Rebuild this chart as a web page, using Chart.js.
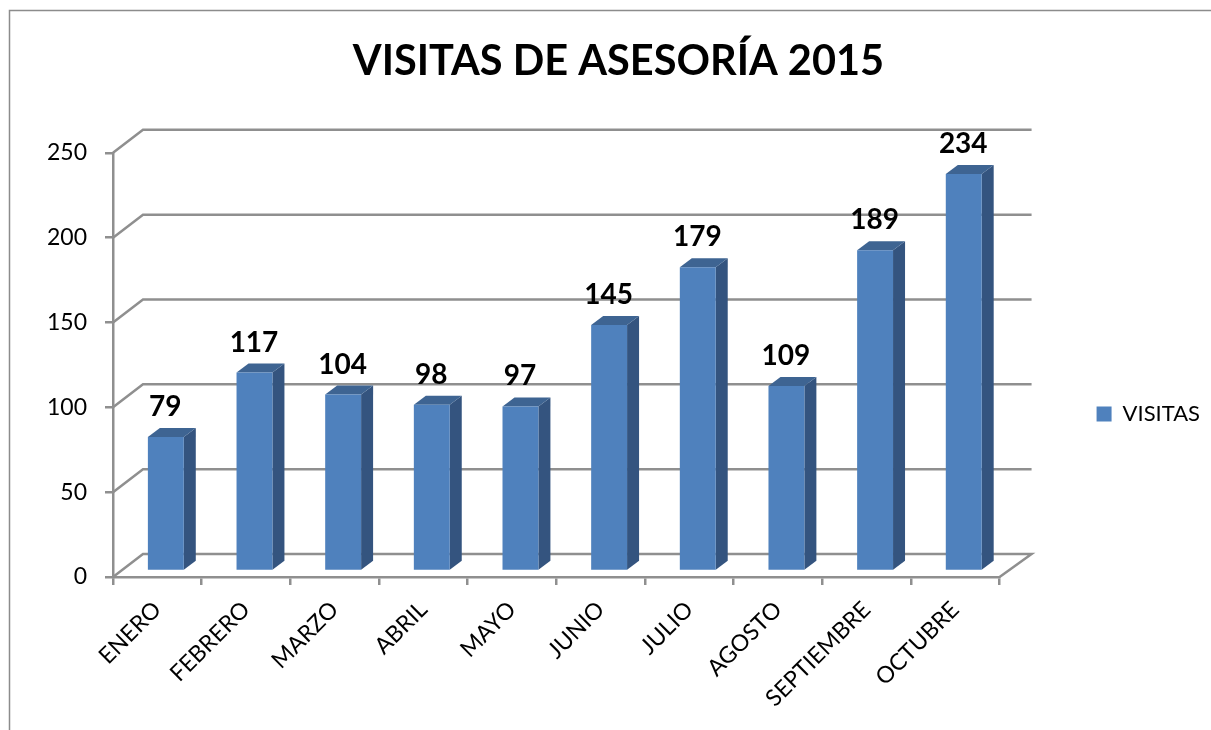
<!DOCTYPE html>
<html>
<head>
<meta charset="utf-8">
<style>
    html, body { margin: 0; padding: 0; background: #fff; }
    canvas { display: block; }
</style>
</head>
<body>
<canvas id="visitasChart" width="1211" height="730"></canvas>
<script src="https://cdn.jsdelivr.net/npm/chart.js@4/dist/chart.umd.min.js"></script>
<script>
const months = ['ENERO', 'FEBRERO', 'MARZO', 'ABRIL', 'MAYO', 'JUNIO', 'JULIO', 'AGOSTO', 'SEPTIEMBRE', 'OCTUBRE'];
const visitas = [79, 117, 104, 98, 97, 145, 179, 109, 189, 234];
const seriesName = 'VISITAS';
const chartTitle = 'VISITAS DE ASESORÍA 2015';

const fontName = 'Lato';
const gridColor = '#8f8f8f';

// fake 3D, same look as the old Excel column chart
let wall = {
    id: 'wall',
    beforeDatasetsDraw(chart) {
        let ctx = chart.ctx;
        let y = chart.scales.y;
        let area = chart.chartArea;

        ctx.save();
        ctx.strokeStyle = gridColor;
        ctx.lineWidth = 2.5;
        y.ticks.forEach(tick => {
            let py = y.getPixelForValue(tick.value);
            ctx.beginPath();
            ctx.moveTo(area.left, py);
            ctx.lineTo(area.left + 30, py - 23);
            ctx.lineTo(area.right + 32, py - 23);
            if (tick.value === 0) ctx.lineTo(area.right, py);
            ctx.stroke();
        });
        ctx.restore();

        // bars sit a bit behind the front plane
        ctx.save();
        ctx.translate(8.5, -6);
        let bars = chart.getDatasetMeta(0).data;
        bars.forEach(bar => {
            let l = bar.x - bar.width / 2;
            let r = bar.x + bar.width / 2;
            ctx.fillStyle = '#34547f';
            ctx.beginPath();
            ctx.moveTo(r, bar.y);
            ctx.lineTo(r + 12, bar.y - 9);
            ctx.lineTo(r + 12, bar.base - 9);
            ctx.lineTo(r, bar.base);
            ctx.fill();
            ctx.fillStyle = '#3e6492';
            ctx.beginPath();
            ctx.moveTo(l, bar.y);
            ctx.lineTo(l + 12, bar.y - 9);
            ctx.lineTo(r + 12, bar.y - 9);
            ctx.lineTo(r, bar.y);
            ctx.fill();
        });
    },
    afterDatasetsDraw(chart) {
        let ctx = chart.ctx;
        ctx.restore();

        ctx.save();
        ctx.fillStyle = '#000';
        ctx.font = 'bold 28px ' + fontName;
        ctx.textAlign = 'center';
        ctx.textBaseline = 'middle';
        chart.getDatasetMeta(0).data.forEach((bar, i) => {
            ctx.fillText(visitas[i], bar.x + 8, bar.y - 36);
        });
        ctx.restore();
    },
    afterLayout(chart) {
        // legend goes lower than Chart.js wants
        let legend = chart.legend;
        legend.left -= 1;
        legend.right -= 1;
        legend.top += 49;
        legend.bottom += 49;
    },
    beforeDraw(chart) {
        let ctx = chart.ctx;
        ctx.save();
        ctx.fillStyle = '#fff';
        ctx.fillRect(0, 0, chart.width, chart.height);
        ctx.strokeStyle = '#8c8c8c';
        ctx.lineWidth = 1.5;
        ctx.beginPath();
        ctx.moveTo(9.5, 730);
        ctx.lineTo(9.5, 10.5);
        ctx.lineTo(1211, 10.5);
        ctx.stroke();
        ctx.restore();
    }
};

let visitasChart = new Chart(document.getElementById('visitasChart').getContext('2d'), {
    type: 'bar',
    data: {
        labels: months,
        datasets: [{
            label: seriesName,
            data: visitas,
            backgroundColor: '#4f81bd',
            barPercentage: 0.405,
            categoryPercentage: 1,
            clip: false
        }]
    },
    plugins: [wall],
    options: {
        responsive: false,
        animation: false,
        layout: { padding: { left: 26, right: 0, top: 0, bottom: 0 } },
        scales: {
            x: {
                afterFit(scale) { scale.height = 153; },
                border: { color: gridColor, width: 2.5 },
                grid: { color: gridColor, lineWidth: 2.5, drawOnChartArea: false, tickLength: 8 },
                ticks: {
                    autoSkip: false,
                    minRotation: 45,
                    maxRotation: 45,
                    padding: 11,
                    color: '#000',
                    font: { family: fontName, size: 23 }
                }
            },
            y: {
                min: 0,
                max: 250,
                afterFit(scale) { scale.width = 87; },
                border: { color: gridColor, width: 2.5 },
                grid: { color: gridColor, lineWidth: 2.5, drawOnChartArea: false, tickLength: 8 },
                ticks: {
                    stepSize: 50,
                    padding: 18,
                    color: '#000',
                    font: { family: fontName, size: 23 }
                }
            }
        },
        plugins: {
            title: {
                display: true,
                text: chartTitle,
                color: '#000',
                font: { family: fontName, size: 41.5, weight: 'bold' },
                padding: { top: 37, bottom: 66 }
            },
            legend: {
                position: 'right',
                labels: {
                    color: '#000',
                    boxWidth: 15,
                    boxHeight: 15,
                    padding: 98,
                    font: { family: fontName, size: 22 }
                }
            },
            tooltip: { enabled: false }
        }
    }
});
</script>
</body>
</html>
